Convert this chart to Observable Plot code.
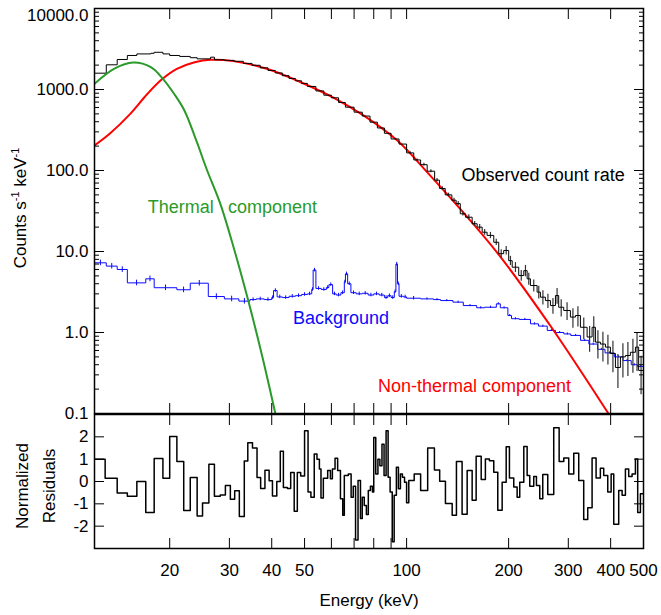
<!DOCTYPE html>
<html><head><meta charset="utf-8">
<script src="https://cdn.jsdelivr.net/npm/d3@7"></script>
<script src="https://cdn.jsdelivr.net/npm/@observablehq/plot@0.6"></script>
<style>
body{margin:0;background:#fff;}
#chart{width:661px;height:615px;font-family:"Liberation Sans",Arial,Helvetica,sans-serif;}
#chart svg{display:block;overflow:visible;}
</style></head><body><div id="chart"></div>
<script>
// ---- Observed count rate (bin left edges, keV) ----
const obsE = [12,13,14,15,16,17.6,18,19.1,20,21.4, 23,24.1,26.4,27.1,29,31,33,35,37,39, 41,43,45,47,49,51,54,57,60,63, 66,70,74,78,82,86,90,95,100,105, 110,115,121,125,130,136,140,144,149.2,156.1, 161.5,167.1,172.8,180.8,187,193.4,200.1,204.9,214.2,221.7, 226.8,231.9,242.7,248.2,256.8,265.7,274.9,281,290.8,304.3, 314.9,325.7,340.9,352.6,360.7,373.1,386,399.4,413.2,427.4, 442.2,457.4,473.3,483.8];
const obsV = [1590,2018,2345,2630,2750,2800,2880,2750,2630,2560, 2470,2390,2505,2330,2290,2230,2100,1990,1850,1720, 1600,1480,1370,1280,1190,1090,960,850,790,690, 605,525,470,395,335,288,245,212,165,135, 118,98,76,60,50,43,39,29.2,26.5,22, 20,17.3,15.8,13,9.4,10.3,7.7,6.4,5.05,5.8, 4.6,3.8,3.15,2.73,2.48,2.15,2.86,2.05,1.87,1.55, 1.62,1.16,0.88,1.16,0.76,0.72,0.66,0.55,0.37,0.5, 0.52,0.57,0.66,0.34];
const obsErr = [0.01,0.01,0.01,0.01,0.01,0.01,0.01,0.01,0.01,0.01, 0.01,0.01,0.01,0.01,0.01,0.01,0.01,0.01,0.01,0.01, 0.01,0.01,0.01,0.01,0.01,0.01,0.02,0.02,0.02,0.02, 0.02,0.02,0.02,0.02,0.02,0.02,0.02,0.02,0.03,0.03, 0.04,0.04,0.05,0.05,0.05,0.06,0.06,0.06,0.07,0.07, 0.08,0.08,0.09,0.09,0.12,0.12,0.13,0.14,0.15,0.16, 0.17,0.17,0.18,0.2,0.2,0.22,0.22,0.24,0.25,0.27, 0.28,0.3,0.35,0.35,0.38,0.4,0.4,0.42,0.45,0.45, 0.45,0.45,0.5,0.5];
const eMax = 500;

// ---- Background ----
const bgE = [11.8,12,13,14,15,17,18,21,23,26, 29,32,34.5,36,38,40,40.5,41.5,43,45, 47,49,51,52.5,53,54,56,58,59,60.5, 62,64,65.5,66,67,68.5,71,74,77,80, 83,86,88,90,92,93,94,95,98,100, 110,120,126,137,147,161,170,184,189,199, 204,215,232,245,260,275,291,305,326,345, 366,385,410,435,460,480];
const bgV = [14,7.25,6.6,6.0,4.1,4.6,3.57,3.37,4.06,2.78, 2.6,2.44,2.55,2.6,2.55,2.7,3.3,2.75,2.7,2.8, 2.85,2.95,3.0,3.4,5.9,3.5,3.4,3.6,3.9,3.0, 2.9,3.1,4.2,5.3,4.0,3.1,3.0,3.05,2.9,3.0, 2.9,2.7,2.85,2.7,3.2,7.0,4.0,2.8,2.75,2.65, 2.6,2.55,2.48,2.37,2.15,2.02,2.05,2.26,2.02,1.62, 1.48,1.45,1.28,1.2,1.06,1.0,0.96,0.92,0.8,0.72, 0.62,0.56,0.5,0.45,0.4,0.38];
const bgErr = [0,0.08,0.08,0.08,0.08,0.08,0.08,0.08,0.08,0.08, 0.08,0.08,0.05,0.05,0.05,0.05,0.05,0.05,0.05,0.05, 0.05,0.05,0.05,0.05,0.05,0.05,0.05,0.05,0.05,0.05, 0.05,0.05,0.05,0.05,0.05,0.05,0.05,0.05,0.05,0.05, 0.05,0.05,0.05,0.05,0.05,0.05,0.05,0.05,0.05,0.05, 0.03,0.03,0.03,0.03,0.03,0.03,0.03,0.03,0.03,0.03, 0.03,0.03,0.03,0.03,0.03,0.03,0.03,0.03,0.03,0.03, 0.03,0.03,0.03,0.03,0.03,0.03];

// ---- Model components ----
const thE = [12,13.7,15.6,17.6,19.1,20.6,22.1,24,25.8,28.2,31,34.1,37.5,41];
const thV = [1175,1800,2150,1888,1355,886,551,230,100,39,10.6,2.48,0.51,0.1];
const ntE = [12,13.3,15.3,17.2,18.9,21,23.7,26.4,30.8,38.7,48.7,61,74.8,93.9,117.6,143.9,185,269,394,420];
const ntV = [204,284,500,885,1318,1800,2173,2330,2240,1800,1230,790,475,234,86,33.6,9.7,1.12,0.1,0.066];

// ---- Normalized residuals ----
const resE = [12,12.9,14,15,16,17,18,19.1,20,21, 22,23,24.1,25,26.1,27.1,28.2,29.2,30.2,31.1, 32.1,33.2,34,35.1,36.2,37.1,38.2,39.3,40.2,41.4, 42.4,43.3,44.5,45.5,46.6,47.6,48.7, 50,51.2,52.2,53.4,54.4,55.3,55.9,56.8,58.5,59.6, 60.4,61.5,62.6,63.8,64.8,65.5,67.3,68.6,69.6,70.7, 71.9,73.1,74,75,76.1,77.1,78.2,79.3,80,81.1, 82.3,83.4,84.6,85.8,87,88.2,89.4,90.7,91.9,93.3, 94.6,95.9,97.2,98.6,100,101.5,105.3,110,115.4,120.8, 125.2,130.2,136.3,140.3,145.8,150.9,156.1,160.4,166,170.8, 175.5,180.8,185.8,191.4,196.7,201.1,207.1,211.9,215.7,221.7, 226.8,230.9,237.2,241.6,247.1,252.2,260.9,271.7,281.9,290.9, 300.9,311.3,322,333.1,342.3,352.6,362.3,373,381.6,392.2, 401.3,408.5,422.5,432.4,442.2,452.2,462.7,473.3,480.7,489.6];
const resV = [1.0,0.15,-0.52,-0.66,0,-1.39,1.03,0.15,2.02,0.89, -1.3,0.18,-1.54,-0.96,0.77,-0.66,-0.6,-0.18,-0.8,-0.41, -1.57,0.92,1.74,1.5,0.18,-0.31,0.5,0.03,-0.65,0, 1.36,-0.27,-0.31,0.4,-1.33,0.4,0.25, 2.27,-0.47,-0.7,1.23,1.0,0.56,-0.74,0.15,0.49,0.12, 0.56,1.04,0.49,-0.77,-1.51,0.27,0.34,-0.7,-0.21,-2.62, 0.04,-1.66,-0.7,-1.07,-1.48,-0.4,-0.21,-0.47,1.97,0.34, 1.0,0.71,1.67,0.27,2.27,0.19,-0.47,-2.7,-0.62,0.64, -0.33,0.34,0.19,-0.03,-0.95,0.04,0.34,-0.4,1.5,0.52, 0.01,-0.99,-1.51,0.89,-1.47,0.49,-0.84,1.13,0.09,1.01, 0.93,0.41,-1.29,-0.03,1.56,0.16,-0.25,-0.7,-0.03,1.57, 0.27,-0.21,0.22,-0.18,-0.77,0.31,-0.58,2.41,0.9,1.05, 0.34,1.27,0.04,-1.7,-1.17,1.05,0.16,0.59,0.27,-0.47, 0.34,-1.91,-0.4,-0.62,0.56,0.22,0.34,1.01,-1.39,-0.55];

// ---- Ticks ----
const yMajor = [0.1,1,10,100,1000,10000];
const yLabelsLow = [0.1,1,10,100,1000];
const yLabelTop = [10000];
const yMinor = [0.2,0.3,0.4,0.5,0.6,0.7,0.8,0.9,2,3,4,5,6,7,8,9,20,30,40,50,60,70,80,90,200,300,400,500,600,700,800,900,2000,3000,4000,5000,6000,7000,8000,9000];
const xTicks = [20,30,40,50,60,70,80,90,100,200,300,400];
const xLabels = [20,30,40,50,60,80,100,200,300,400,500];
const resTicks = [-2,-1,0,1,2];

const GREEN = "#2a9a2a", RED = "#ff0000", BLUE = "#0a0aff";
const FONT = '"Liberation Sans", Arial, Helvetica, sans-serif';

function stepRows(E, V, end) {
  const rows = E.map((e, i) => ({e, v: V[i]}));
  rows.push({e: end, v: V[V.length - 1]});
  return rows;
}
function errRows(E, V, Er, end) {
  return E.map((e, i) => {
    const hi = i + 1 < E.length ? E[i + 1] : end;
    return {c: Math.sqrt(Math.max(e, 12) * hi), lo: V[i] * (1 - Er[i]), hi: V[i] * (1 + Er[i])};
  }).filter(d => d.hi / d.lo > 1.05);
}
const curveRows = (E, V) => E.map((e, i) => ({e, v: V[i]}));

const common = {
  width: 661, marginLeft: 94, marginRight: 18,
  style: {fontFamily: FONT, fontSize: "17px", background: "none", overflow: "visible", color: "black"}
};

const topPlot = Plot.plot({
  ...common,
  height: 414, marginTop: 8, marginBottom: 1,
  x: {type: "log", domain: [12, eMax]},
  y: {type: "log", domain: [0.1, 10000]},
  marks: [
    Plot.line(stepRows(bgE, bgV, eMax), {x: "e", y: "v", curve: "step-after", stroke: BLUE, strokeWidth: 1, clip: true}),
    Plot.ruleX(errRows(bgE, bgV, bgErr, eMax), {x: "c", y1: "lo", y2: "hi", stroke: BLUE, strokeWidth: 1, clip: true}),
    Plot.line(curveRows(ntE, ntV), {x: "e", y: "v", curve: "catmull-rom", stroke: RED, strokeWidth: 2, clip: true}),
    Plot.ruleX(errRows(obsE, obsV, obsErr, eMax), {x: "c", y1: "lo", y2: "hi", stroke: "#333", strokeWidth: 1.2, clip: true}),
    Plot.line(stepRows(obsE, obsV, eMax), {x: "e", y: "v", curve: "step-after", stroke: "black", strokeWidth: 1, clip: true}),
    Plot.line(curveRows(thE, thV), {x: "e", y: "v", curve: "catmull-rom", stroke: GREEN, strokeWidth: 2, clip: true}),
    Plot.axisY(yLabelsLow, {anchor: "left", tickSize: 0, tickPadding: 6, tickFormat: d => d.toFixed(1), label: null}),
    Plot.axisY(yLabelTop, {anchor: "left", tickSize: 0, tickPadding: 6, dy: 7, tickFormat: d => d.toFixed(1), label: null}),
    Plot.axisY(yMajor, {anchor: "left", tickSize: -10, fill: "none", label: null}),
    Plot.axisY(yMinor, {anchor: "left", tickSize: -5, fill: "none", label: null}),
    Plot.axisY(yMajor, {anchor: "right", tickSize: -10, fill: "none", label: null}),
    Plot.axisY(yMinor, {anchor: "right", tickSize: -5, fill: "none", label: null}),
    Plot.axisX(xTicks, {anchor: "bottom", tickSize: -10, fill: "none", label: null}),
    Plot.axisX(xTicks, {anchor: "top", tickSize: -10, fill: "none", label: null}),
    Plot.frame({stroke: "black", strokeWidth: 1.5})
  ]
});

const botPlot = Plot.plot({
  ...common,
  height: 201, marginTop: 0, marginBottom: 67,
  x: {type: "log", domain: [12, eMax]},
  y: {domain: [-3, 3]},
  marks: [
    Plot.line(stepRows(resE, resV, eMax), {x: "e", y: "v", curve: "step-after", stroke: "black", strokeWidth: 1.5, clip: true}),
    Plot.axisY(resTicks, {anchor: "left", tickSize: 0, tickPadding: 6, tickFormat: d => String(d), label: null}),
    Plot.axisY(resTicks, {anchor: "left", tickSize: -10, fill: "none", label: null}),
    Plot.axisY(resTicks, {anchor: "right", tickSize: -10, fill: "none", label: null}),
    Plot.axisX(xTicks, {anchor: "bottom", tickSize: -10, fill: "none", label: null}),
    Plot.axisX(xTicks, {anchor: "top", tickSize: -10, fill: "none", label: null}),
    Plot.axisX(xLabels, {anchor: "bottom", tickSize: 0, tickPadding: 15, tickFormat: d => String(d), label: null}),
    Plot.frame({stroke: "black", strokeWidth: 1.5})
  ]
});

const chart = document.getElementById("chart");
chart.appendChild(topPlot);
chart.appendChild(botPlot);

// Annotations positioned through the plot's own scales
const sx = topPlot.scale("x"), sy = topPlot.scale("y");
const st = d3.select(topPlot);
const notes = [
  {t: "Observed count rate", e: 145.8, v: 86.7, c: "black"},
  {t: "Thermal", e: 17.3, v: 34.9, c: GREEN},
  {t: "component", e: 29.8, v: 34.9, c: GREEN},
  {t: "Background", e: 46.4, v: 1.49, c: BLUE},
  {t: "Non-thermal component", e: 82.6, v: 0.215, c: RED}
];
for (const n of notes) {
  st.append("text").attr("x", sx.apply(n.e)).attr("y", sy.apply(n.v)).attr("dy", "0.35em")
    .attr("text-anchor", "start").attr("font-size", 18).attr("fill", n.c).attr("font-family", FONT).text(n.t);
}

// Axis titles
const yt = st.append("text").attr("transform", "translate(26,208) rotate(-90)")
  .attr("text-anchor", "middle").attr("font-size", 17).attr("fill", "black").attr("font-family", FONT);
yt.append("tspan").text("Counts s");
yt.append("tspan").attr("dy", -7).attr("font-size", 11).text("-1");
yt.append("tspan").attr("dy", 7).text("\u00a0keV");
yt.append("tspan").attr("dy", -7).attr("font-size", 11).text("-1");

const sb = d3.select(botPlot);
sb.append("text").attr("transform", "translate(28,72) rotate(-90)").attr("text-anchor", "middle")
  .attr("font-size", 17).attr("fill", "black").attr("font-family", FONT).text("Normalized");
sb.append("text").attr("transform", "translate(55,72) rotate(-90)").attr("text-anchor", "middle")
  .attr("font-size", 17).attr("fill", "black").attr("font-family", FONT).text("Residuals");
sb.append("text").attr("x", 369).attr("y", 192).attr("text-anchor", "middle")
  .attr("font-size", 17).attr("fill", "black").attr("font-family", FONT).text("Energy (keV)");
</script></body></html>
